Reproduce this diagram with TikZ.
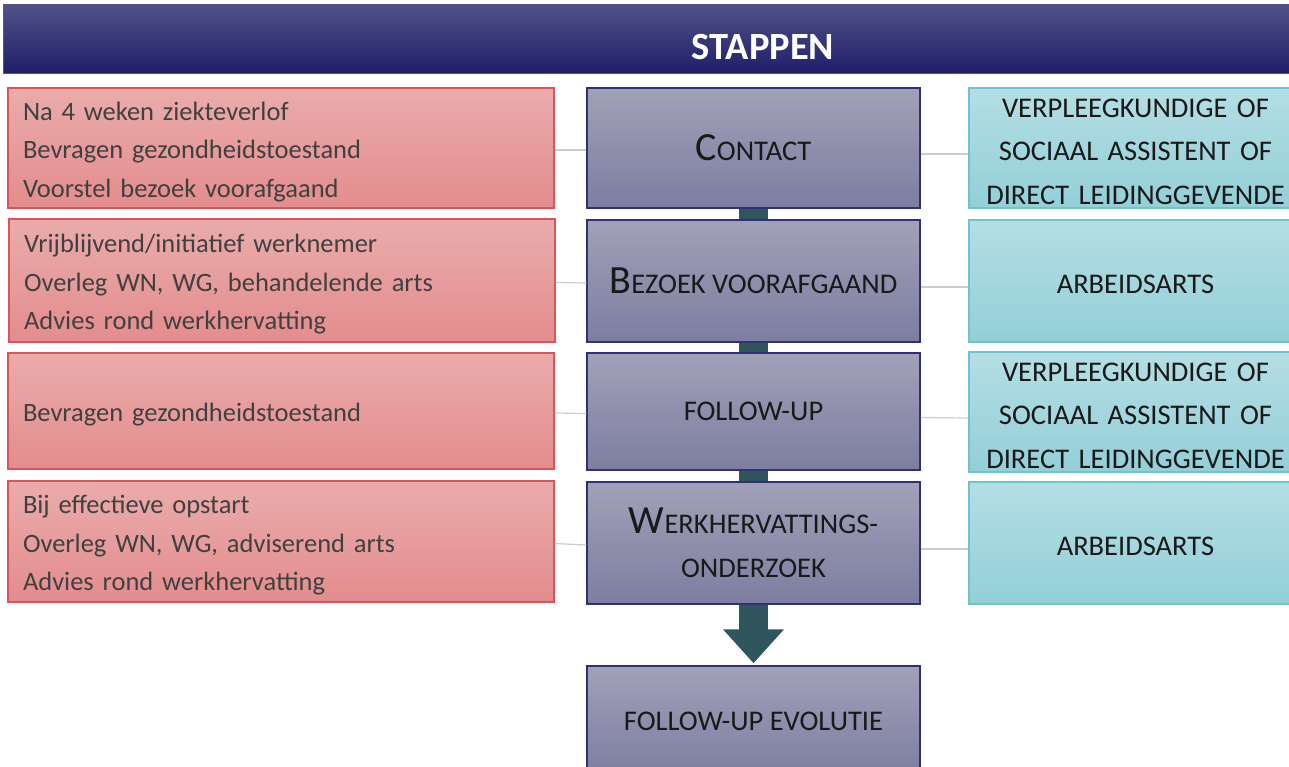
\documentclass[tikz,border=0pt]{standalone}
\usepackage{fontspec}
\setmainfont{Carlito}
\usetikzlibrary{arrows.meta, positioning}

\definecolor{headtop}{RGB}{82,82,135}
\definecolor{headbot}{RGB}{30,30,106}
\definecolor{redtop}{RGB}{234,172,172}
\definecolor{redbot}{RGB}{228,140,141}
\definecolor{redline}{RGB}{218,84,90}
\definecolor{bluetop}{RGB}{161,161,185}
\definecolor{bluebot}{RGB}{125,125,160}
\definecolor{blueline}{RGB}{48,48,120}
\definecolor{cyantop}{RGB}{180,222,228}
\definecolor{cyanbot}{RGB}{147,207,216}
\definecolor{cyanline}{RGB}{110,195,204}
\definecolor{barcol}{RGB}{47,85,93}
\definecolor{txtgray}{RGB}{64,64,64}
\definecolor{txtdark}{RGB}{25,25,25}

% first letter large, the rest as small capitals
\newcommand{\bigsc}[2]{{\fontsize{40}{40}\selectfont #1}#2}

\tikzset{
  header/.style={top color=headtop, bottom color=headbot, draw=headtop},
  remark/.style={top color=redtop, bottom color=redbot, draw=redline, line width=1.2pt,
    minimum width=546, inner xsep=15, text width=516, align=left,
    execute at begin node={\rule{0pt}{26pt}},
    text=txtgray, font=\fontsize{26.5}{38.5}\selectfont},
  stepbox/.style={top color=bluetop, bottom color=bluebot, draw=blueline, line width=1.5pt,
    minimum width=333, align=center, text=txtdark, font=\fontsize{28.5}{44}\selectfont},
  who/.style={top color=cyantop, bottom color=cyanbot, draw=cyanline, line width=1.2pt,
    minimum width=333, text width=320, align=center,
    execute at begin node={\rule{0pt}{26pt}},
    text=txtdark, font=\fontsize{28.5}{43.5}\selectfont},
  bar/.style={barcol, line width=29},
  link/.style={draw=black!20, line width=1.2pt}
}

\begin{document}
\begin{tikzpicture}[x=1pt, y=-1pt]
\useasboundingbox (0,0) rectangle (1289,766);
\clip (0,0) rectangle (1289,766);

\node[header, minimum width=1520, minimum height=69] (head) at (763,38.5) {};
\node[text=white, font=\fontsize{38.5}{38.5}\selectfont\bfseries] (title) at (763,47) {STAPPEN};

% steps in the middle
\node[stepbox, minimum height=120] (c1) at (753.5,148) {\bigsc{C}{ONTACT}};
\node[stepbox, minimum height=122] (c2) at (753.5,281) {\bigsc{B}{EZOEK VOORAFGAAND}};
\node[stepbox, minimum height=117] (c3) at (753.5,411.5) {FOLLOW-UP};
\node[stepbox, minimum height=122] (c4) at (753.5,543) {\bigsc{W}{ERKHERVATTINGS-}\\ONDERZOEK};
\node[stepbox, minimum height=110] (c5) at (753.5,721) {FOLLOW-UP EVOLUTIE};

% what happens
\node[remark, minimum height=120] (l1) at (281,148)
  {Na 4 weken ziekteverlof\\Bevragen gezondheidstoestand\\Voorstel bezoek voorafgaand};
\node[remark, minimum height=123] (l2) at (282,280.5)
  {Vrijblijvend/initiatief werknemer\\Overleg WN, WG, behandelende arts\\Advies rond werkhervatting};
\node[remark, minimum height=116] (l3) at (281,411)
  {Bevragen gezondheidstoestand};
\node[remark, minimum height=121] (l4) at (281,541.5)
  {Bij effectieve opstart\\Overleg WN, WG, adviserend arts\\Advies rond werkhervatting};

% who does it
\node[who, minimum height=120] (r1) at (1135.5,148)
  {VERPLEEGKUNDIGE OF\\SOCIAAL ASSISTENT OF\\DIRECT LEIDINGGEVENDE};
\node[who, minimum height=122] (r2) at (1135.5,281) {ARBEIDSARTS};
\node[who, minimum height=118] (r3) at (1135.5,412)
  {VERPLEEGKUNDIGE OF\\SOCIAAL ASSISTENT OF\\DIRECT LEIDINGGEVENDE};
\node[who, minimum height=122] (r4) at (1135.5,543) {ARBEIDSARTS};

% connectors
\draw[bar] (c1) -- (c2);
\draw[bar] (c2) -- (c3);
\draw[bar] (c3) -- (c4);
\draw[bar, -{Triangle[length=34pt 0 0, width=59pt 0 0]}] (c4.south) -- ([yshift=2pt]c5.north);

\foreach \i in {1,...,4} {
  \draw[link] ([yshift=-2pt]l\i.east) -- ([yshift=-2pt]c\i.west);
  \draw[link] ([yshift=-6pt]c\i.east) -- ([yshift=-6pt]r\i.west);
}
\end{tikzpicture}
\end{document}
